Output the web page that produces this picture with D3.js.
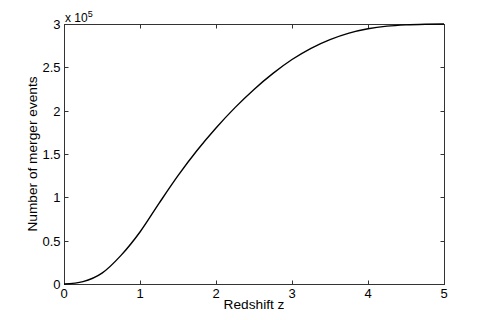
<!DOCTYPE html>
<html>
<head>
<meta charset="utf-8">
<script src="https://cdn.jsdelivr.net/npm/d3@7"></script>
<style>
  body { margin: 0; background: #fff; }
  svg { display: block; }
  text { font-family: "Liberation Sans", Arial, Helvetica, sans-serif; fill: #000; }
</style>
</head>
<body>
<svg id="chart" width="491" height="320"></svg>
<script>
// Data
const redshift = [0, 0.25, 0.5, 0.75, 1.0, 1.25, 1.5, 1.75, 2.0, 2.25, 2.5, 2.75, 3.0, 3.25, 3.5, 3.75, 4.0, 4.25, 4.5, 4.75, 5.0];
const mergerEvents = [0, 2800, 12500, 33000, 60000, 93000, 125000, 154000, 180000, 203500, 224500, 243000, 259000, 272000, 282000, 289500, 294500, 297500, 299000, 299700, 300000];
const xTicks = [0, 1, 2, 3, 4, 5];
const yTicks = [0, 0.5, 1, 1.5, 2, 2.5, 3];   // in units of 10^5
const xLabel = "Redshift z";
const yLabel = "Number of merger events";

const svg = d3.select("#chart");
const L = 64, R = 444, T = 24, B = 284;

const x = d3.scaleLinear().domain([0, 5]).range([L, R]);
const y = d3.scaleLinear().domain([0, 3]).range([B, T]);

const tickLen = 4;
const axisColor = "#333";
const fs = 13;
const lfs = 13.7;

// Frame
svg.append("rect")
  .attr("x", L + 0.5).attr("y", T + 0.5)
  .attr("width", R - L).attr("height", B - T)
  .attr("fill", "none").attr("stroke", axisColor).attr("stroke-width", 1);

// X ticks (bottom and top, inward)
const gx = svg.append("g");
xTicks.forEach(v => {
  const px = Math.round(x(v)) + 0.5;
  gx.append("line").attr("x1", px).attr("x2", px).attr("y1", B + 0.5).attr("y2", B + 0.5 - tickLen)
    .attr("stroke", axisColor).attr("stroke-width", 1);
  gx.append("line").attr("x1", px).attr("x2", px).attr("y1", T + 0.5).attr("y2", T + 0.5 + tickLen)
    .attr("stroke", axisColor).attr("stroke-width", 1);
  gx.append("text").attr("x", x(v)).attr("y", B + 13.5)
    .attr("text-anchor", "middle").attr("font-size", fs).text(d3.format("d")(v));
});

// Y ticks (left and right, inward)
const gy = svg.append("g");
yTicks.forEach(v => {
  const py = Math.round(y(v)) + 0.5;
  gy.append("line").attr("x1", L + 0.5).attr("x2", L + 0.5 + tickLen).attr("y1", py).attr("y2", py)
    .attr("stroke", axisColor).attr("stroke-width", 1);
  gy.append("line").attr("x1", R + 0.5).attr("x2", R + 0.5 - tickLen).attr("y1", py).attr("y2", py)
    .attr("stroke", axisColor).attr("stroke-width", 1);
  gy.append("text").attr("x", L - 3.5).attr("y", y(v) + 5)
    .attr("text-anchor", "end").attr("font-size", fs).text(v);
});

// Exponent label
const ex = svg.append("text").attr("x", L + 1).attr("y", T - 2.5).attr("font-size", 12);
ex.append("tspan").text("x 10");
ex.append("tspan").attr("dy", -5).attr("font-size", 9).text("5");

// Axis labels
svg.append("text").attr("x", (L + R) / 2).attr("y", 309)
  .attr("text-anchor", "middle").attr("font-size", lfs).text(xLabel);
svg.append("text")
  .attr("transform", `translate(36.5,${(T + B) / 2}) rotate(-90)`)
  .attr("text-anchor", "middle").attr("font-size", lfs).text(yLabel);

// Curve
const data = redshift.map((z, i) => [z, mergerEvents[i] / 1e5]);
const line = d3.line().x(d => x(d[0])).y(d => y(d[1])).curve(d3.curveMonotoneX);
svg.append("path").datum(data)
  .attr("d", line).attr("fill", "none").attr("stroke", "#000").attr("stroke-width", 1.4);
</script>
</body>
</html>
